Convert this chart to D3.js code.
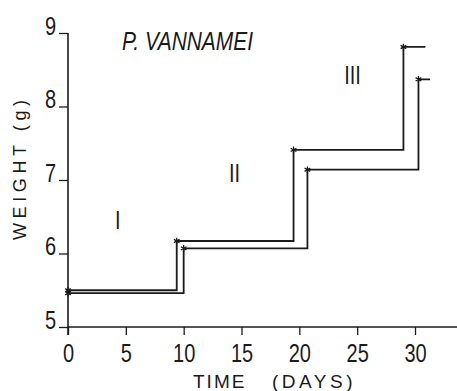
<!DOCTYPE html>
<html>
<head>
<meta charset="utf-8">
<script src="https://cdn.jsdelivr.net/npm/d3@7"></script>
<style>
  html, body { margin: 0; padding: 0; background: #fff; }
  svg { display: block; }
</style>
</head>
<body>
<svg id="chart" width="457" height="391"></svg>
<script>
// Growth of P. vannamei: two replicate groups, weight step-ups at each feeding phase
const xTicks = [0, 5, 10, 15, 20, 25, 30];
const yTicks = [5, 6, 7, 8, 9];

const upperDays    = [0, 9.4, 19.5, 29.0, 30.9];
const upperWeights = [5.50, 6.17, 7.41, 8.81, 8.81];
const lowerDays    = [0, 10.0, 20.7, 30.3, 31.3];
const lowerWeights = [5.46, 6.07, 7.14, 8.37, 8.37];

// Phase labels and their positions (day, weight)
const phaseLabels = ["I", "II", "III"];
const phaseDays   = [4.3, 14.4, 24.6];
const phaseWeights = [6.34, 6.97, 8.3];

const svg = d3.select("#chart");
const x = d3.scaleLinear().domain([0, 30]).range([68, 415]);
const y = d3.scaleLinear().domain([5, 9]).range([327, 33]);
const ink = "#1b1b1b";
const font = "Liberation Sans, Arial, sans-serif";
const squeeze = 0.8;   // condensed look for numerals

// X axis: ticks hang below, baseline runs to the right edge
const xAxis = svg.append("g")
  .attr("transform", `translate(0,${y(5)})`)
  .call(d3.axisBottom(x).tickValues(xTicks).tickFormat(d3.format("d"))
    .tickSize(8).tickSizeOuter(0).tickPadding(9));
xAxis.select(".domain").remove();
xAxis.selectAll(".tick line").attr("stroke", ink).attr("stroke-width", 1.3);
xAxis.selectAll(".tick text")
  .attr("font-family", font).attr("font-size", 25).attr("fill", ink)
  .attr("transform", `scale(${squeeze},1)`);
svg.append("line")
  .attr("x1", x(0) - 1).attr("x2", 457)
  .attr("y1", y(5)).attr("y2", y(5))
  .attr("stroke", ink).attr("stroke-width", 1.6);

// Y axis: short left ticks, labels sitting on the tick line
const yAxis = svg.append("g")
  .attr("transform", `translate(${x(0)},0)`)
  .call(d3.axisLeft(y).tickValues(yTicks).tickFormat(d3.format("d"))
    .tickSize(9).tickSizeOuter(0).tickPadding(3));
yAxis.select(".domain").remove();
yAxis.selectAll(".tick line").attr("stroke", ink).attr("stroke-width", 1.3);
yAxis.selectAll(".tick text")
  .attr("font-family", font).attr("font-size", 25).attr("fill", ink)
  .attr("x", -12 / squeeze).attr("y", 1).attr("dy", 0)
  .attr("transform", `scale(${squeeze},1)`);
svg.append("line")
  .attr("x1", x(0)).attr("x2", x(0))
  .attr("y1", y(9)).attr("y2", y(5) + 8)
  .attr("stroke", ink).attr("stroke-width", 1.6);

// Step lines
const line = d3.line()
  .x(d => x(d[0])).y(d => y(d[1]))
  .curve(d3.curveStepAfter);

function drawSeries(days, weights) {
  const pts = days.map((d, i) => [d, weights[i]]);
  svg.append("path")
    .datum(pts)
    .attr("fill", "none")
    .attr("stroke", ink)
    .attr("stroke-width", 1.8)
    .attr("d", line);
  // asterisk-style markers at the top of each step
  svg.selectAll(null)
    .data(pts.slice(0, pts.length - 1))
    .join("path")
    .attr("transform", d => `translate(${x(d[0])},${y(d[1])})`)
    .attr("d", d3.symbol(d3.symbolAsterisk, 30))
    .attr("fill", "none")
    .attr("stroke", ink)
    .attr("stroke-width", 1.3);
}
drawSeries(upperDays, upperWeights);
drawSeries(lowerDays, lowerWeights);

// Phase numerals
svg.selectAll(null)
  .data(phaseLabels)
  .join("text")
  .attr("transform", (d, i) => `translate(${x(phaseDays[i])},${y(phaseWeights[i])}) scale(${squeeze},1)`)
  .attr("font-family", font)
  .attr("text-anchor", "middle")
  .attr("font-size", 25)
  .attr("fill", ink)
  .text(d => d);

// Species title
svg.append("text")
  .attr("x", 122).attr("y", 50)
  .attr("font-family", font)
  .attr("font-size", 25)
  .attr("font-style", "italic")
  .attr("textLength", 131)
  .attr("lengthAdjust", "spacingAndGlyphs")
  .attr("fill", ink)
  .text("P. VANNAMEI");

// Axis titles
const xt = svg.append("text")
  .attr("font-family", font)
  .attr("font-size", 19)
  .attr("fill", ink)
  .attr("y", 388);
xt.append("tspan").attr("x", 193).attr("letter-spacing", 2).text("TIME");
xt.append("tspan").attr("x", 272).attr("letter-spacing", 3.5).text("(DAYS)");

svg.append("text")
  .attr("transform", "translate(26,240) rotate(-90)")
  .attr("font-family", font)
  .attr("font-size", 18)
  .attr("letter-spacing", 4.6)
  .attr("fill", ink)
  .text("WEIGHT (g)");
</script>
</body>
</html>
